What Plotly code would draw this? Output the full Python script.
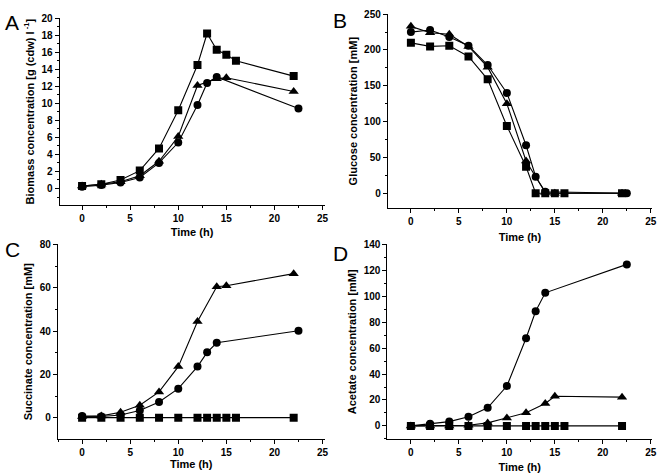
import plotly.graph_objects as go

# ---- data ----
t_sq = [0, 2, 4, 6, 8, 10, 12, 13, 14, 15, 16, 22]
t_ci = [0, 2, 4, 6, 8, 10, 12, 13, 14, 22.5]
t_tr = [0, 2, 4, 6, 8, 10, 12, 14, 15, 22]

bio_sq = [0.3, 0.5, 1.0, 2.1, 4.7, 9.2, 14.5, 18.2, 16.3, 15.7, 15.0, 13.2]
bio_ci = [0.2, 0.4, 0.7, 1.3, 3.0, 5.4, 9.8, 12.4, 13.1, 9.4]
bio_tr = [0.3, 0.5, 0.8, 1.5, 3.2, 6.1, 12.1, 12.9, 13.0, 11.4]

glc_sq = [210, 205, 206, 191, 159, 94, 37, 0, 0, 0, 0, 0]
glc_ci = [225, 228, 218, 206, 179, 140, 67, 23, 2, 0]
glc_tr = [233, 224, 222, 205, 176, 125, 45, 1, 0, 0]

suc_sq = [0, 0, 0, 0, 0, 0, 0, 0, 0, 0, 0, 0]
suc_ci = [0.7, 0.5, 1.2, 3.3, 7.2, 13.4, 23.6, 30.2, 34.6, 40.2]
suc_tr = [0.5, 0.8, 2.5, 5.7, 11.9, 23.6, 44.5, 60.5, 61.0, 66.6]

ace_sq = [0, 0, 0, 0, 0, 0, 0, 0, 0, 0, 0, 0]
ace_ci = [0, 1.6, 3.3, 7.1, 14.0, 30.8, 67.7, 88.6, 102.8, 124.8]
ace_tr = [0, 0, 0, 0.5, 2.3, 6.1, 10.2, 17.3, 22.9, 22.2]

panels = [
    ("A", bio_sq, bio_ci, bio_tr, "Biomass concentration [g (cdw) l<sup> -1</sup>]"),
    ("B", glc_sq, glc_ci, glc_tr, "Glucose concentration [mM]"),
    ("C", suc_sq, suc_ci, suc_tr, "Succinate concentration [mM]"),
    ("D", ace_sq, ace_ci, ace_tr, "Acetate concentration [mM]"),
]

W, H = 666, 474
# pixel boxes (left, right, top, bottom)
boxes = [(60, 327, 13, 202.5), (390.7, 657, 9, 205.5), (58.3, 327, 242, 438.7), (390.3, 657, 242, 438.7)]
xranges = [[-2.34, 25.21], [-2.41, 25.13], [-2.52, 25.21], [-2.45, 25.13]]
yranges = [[-1.98, 20.04], [-21.1, 250.4], [-9.92, 80.1], [-10.2, 140.2]]
ydticks = [2, 50, 20, 20]
letter_pos = [(3, 4), (334, 2), (3, 233), (334, 238)]
x_standoff = [4, 6, 3, 6]

FONT = "Liberation Sans"
fig = go.Figure()
layout = {}
for i, (letter, sq, ci, tr, ytitle) in enumerate(panels):
    n = "" if i == 0 else str(i + 1)
    xa, ya = "x" + n, "y" + n
    for t, v, sym in ((t_sq, sq, "square"), (t_tr, tr, "triangle-up"), (t_ci, ci, "circle")):
        fig.add_trace(go.Scatter(
            x=t, y=v, xaxis=xa, yaxis=ya, mode="lines+markers",
            line=dict(color="black", width=1.1),
            marker=dict(symbol=sym, size=8 if sym != "triangle-up" else 9, color="black"),
            showlegend=False))
    l, r, tp, b = boxes[i]
    common = dict(showline=True, linecolor="black", linewidth=1, ticks="outside",
                  ticklen=4, tickcolor="black", showgrid=False, zeroline=False,
                  tickfont=dict(family=FONT, size=10, color="black", weight="bold"))
    layout["xaxis" + n] = dict(
        domain=[l / W, r / W], anchor=ya, range=xranges[i], dtick=5, tick0=0,
        minor=dict(ticks="outside", ticklen=2, dtick=2.5, tick0=0, tickcolor="black"),
        title=dict(text="Time (h)", standoff=x_standoff[i],
                   font=dict(family=FONT, size=11, color="black", weight="bold")),
        **common)
    layout["yaxis" + n] = dict(
        domain=[1 - b / H, 1 - tp / H], anchor=xa, range=yranges[i], dtick=ydticks[i], tick0=0,
        minor=dict(ticks="outside", ticklen=2, dtick=ydticks[i] / 2, tick0=0, tickcolor="black"),
        title=dict(text=ytitle, standoff=4,
                   font=dict(family=FONT, size=11, color="black", weight="bold")),
        **common)
    lx, ly = letter_pos[i]
    fig.add_annotation(text=letter, x=lx / W, y=1 - ly / H, xref="paper", yref="paper",
                       xanchor="left", yanchor="top", showarrow=False,
                       font=dict(family=FONT, size=21, color="black"))

fig.update_layout(width=W, height=H, margin=dict(l=0, r=0, t=0, b=0),
                  paper_bgcolor="white", plot_bgcolor="white", **layout)
fig.write_html("out.html", config={"displayModeBar": False},
               post_script="document.body.style.margin='0';document.body.style.overflow='hidden';")
